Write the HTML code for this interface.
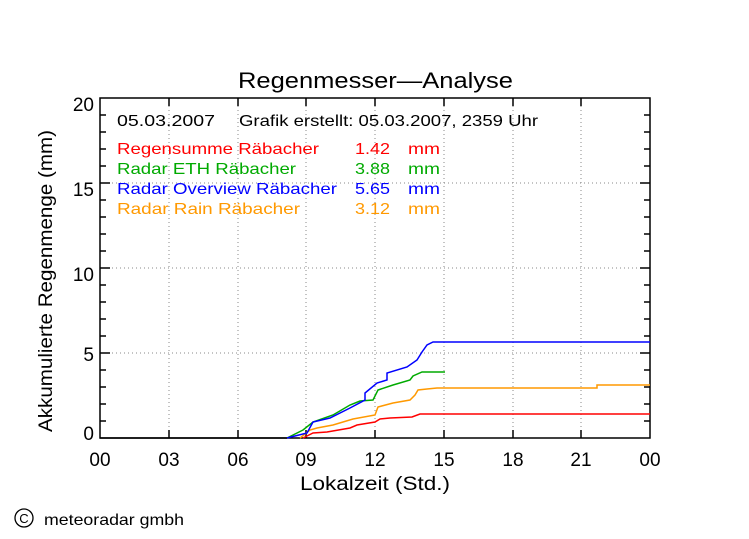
<!DOCTYPE html>
<html><head><meta charset="utf-8"><style>
html,body{margin:0;padding:0;background:#fff;}
svg{display:block;font-family:"Liberation Sans",sans-serif;}
</style></head><body>
<svg width="749" height="539" viewBox="0 0 749 539" xmlns="http://www.w3.org/2000/svg">
<rect width="749" height="539" fill="#fff"/>
<text x="238" y="88" font-size="22" textLength="275" lengthAdjust="spacingAndGlyphs" fill="#000">Regenmesser—Analyse</text>
<g stroke="#888" stroke-width="1" stroke-dasharray="1,3">
<line x1="169" y1="98" x2="169" y2="438"/><line x1="238" y1="98" x2="238" y2="438"/>
<line x1="306" y1="98" x2="306" y2="438"/><line x1="375" y1="98" x2="375" y2="438"/>
<line x1="444" y1="98" x2="444" y2="438"/><line x1="513" y1="98" x2="513" y2="438"/>
<line x1="581" y1="98" x2="581" y2="438"/>
<line x1="100" y1="353" x2="650" y2="353"/><line x1="100" y1="268" x2="650" y2="268"/>
<line x1="100" y1="183" x2="650" y2="183"/>
</g>
<rect x="100" y="98" width="550" height="340" fill="none" stroke="#000" stroke-width="1.5"/>
<g stroke="#000" stroke-width="1.5">
<line x1="100" y1="115" x2="106" y2="115"/><line x1="100" y1="132" x2="106" y2="132"/><line x1="100" y1="149" x2="106" y2="149"/><line x1="100" y1="166" x2="106" y2="166"/><line x1="100" y1="183" x2="110" y2="183"/>
<line x1="100" y1="200" x2="106" y2="200"/><line x1="100" y1="217" x2="106" y2="217"/><line x1="100" y1="234" x2="106" y2="234"/><line x1="100" y1="251" x2="106" y2="251"/><line x1="100" y1="268" x2="110" y2="268"/>
<line x1="100" y1="285" x2="106" y2="285"/><line x1="100" y1="302" x2="106" y2="302"/><line x1="100" y1="319" x2="106" y2="319"/><line x1="100" y1="336" x2="106" y2="336"/><line x1="100" y1="353" x2="110" y2="353"/>
<line x1="100" y1="370" x2="106" y2="370"/><line x1="100" y1="387" x2="106" y2="387"/><line x1="100" y1="404" x2="106" y2="404"/><line x1="100" y1="421" x2="106" y2="421"/>
<line x1="650" y1="115" x2="644" y2="115"/><line x1="650" y1="132" x2="644" y2="132"/><line x1="650" y1="149" x2="644" y2="149"/><line x1="650" y1="166" x2="644" y2="166"/><line x1="650" y1="183" x2="640" y2="183"/>
<line x1="650" y1="200" x2="644" y2="200"/><line x1="650" y1="217" x2="644" y2="217"/><line x1="650" y1="234" x2="644" y2="234"/><line x1="650" y1="251" x2="644" y2="251"/><line x1="650" y1="268" x2="640" y2="268"/>
<line x1="650" y1="285" x2="644" y2="285"/><line x1="650" y1="302" x2="644" y2="302"/><line x1="650" y1="319" x2="644" y2="319"/><line x1="650" y1="336" x2="644" y2="336"/><line x1="650" y1="353" x2="640" y2="353"/>
<line x1="650" y1="370" x2="644" y2="370"/><line x1="650" y1="387" x2="644" y2="387"/><line x1="650" y1="404" x2="644" y2="404"/><line x1="650" y1="421" x2="644" y2="421"/>
<line x1="169" y1="98" x2="169" y2="106"/><line x1="238" y1="98" x2="238" y2="106"/><line x1="306" y1="98" x2="306" y2="106"/><line x1="375" y1="98" x2="375" y2="106"/><line x1="444" y1="98" x2="444" y2="106"/><line x1="513" y1="98" x2="513" y2="106"/><line x1="581" y1="98" x2="581" y2="106"/>
<line x1="169" y1="438" x2="169" y2="430"/><line x1="238" y1="438" x2="238" y2="430"/><line x1="306" y1="438" x2="306" y2="430"/><line x1="375" y1="438" x2="375" y2="430"/><line x1="444" y1="438" x2="444" y2="430"/><line x1="513" y1="438" x2="513" y2="430"/><line x1="581" y1="438" x2="581" y2="430"/>
</g>
<g font-size="19" fill="#000">
<g text-anchor="end"><text x="94" y="111">20</text><text x="94" y="196">15</text><text x="94" y="281">10</text><text x="94" y="361">5</text><text x="94" y="440">0</text></g>
<g text-anchor="middle"><text x="100" y="466">00</text><text x="169" y="466">03</text><text x="238" y="466">06</text><text x="306" y="466">09</text><text x="375" y="466">12</text><text x="444" y="466">15</text><text x="513" y="466">18</text><text x="581" y="466">21</text><text x="650" y="466">00</text></g>
</g>
<text x="300" y="490" font-size="19" textLength="150" lengthAdjust="spacingAndGlyphs">Lokalzeit (Std.)</text>
<text transform="translate(52,432) rotate(-90)" font-size="19" textLength="302" lengthAdjust="spacingAndGlyphs">Akkumulierte Regenmenge (mm)</text>
<g font-size="16" lengthAdjust="spacingAndGlyphs">
<text x="117" y="126" fill="#000" textLength="98" lengthAdjust="spacingAndGlyphs">05.03.2007</text><text x="239" y="126" fill="#000" textLength="299" lengthAdjust="spacingAndGlyphs">Grafik erstellt: 05.03.2007, 2359 Uhr</text>
<text x="117" y="154" fill="#ff0000" textLength="202" lengthAdjust="spacingAndGlyphs">Regensumme Räbacher</text><text x="355" y="154" fill="#ff0000" textLength="35" lengthAdjust="spacingAndGlyphs">1.42</text><text x="408" y="154" fill="#ff0000" textLength="32" lengthAdjust="spacingAndGlyphs">mm</text>
<text x="117" y="174" fill="#00aa00" textLength="179" lengthAdjust="spacingAndGlyphs">Radar ETH Räbacher</text><text x="355" y="174" fill="#00aa00" textLength="35" lengthAdjust="spacingAndGlyphs">3.88</text><text x="408" y="174" fill="#00aa00" textLength="32" lengthAdjust="spacingAndGlyphs">mm</text>
<text x="117" y="194" fill="#0000ff" textLength="220" lengthAdjust="spacingAndGlyphs">Radar Overview Räbacher</text><text x="355" y="194" fill="#0000ff" textLength="35" lengthAdjust="spacingAndGlyphs">5.65</text><text x="408" y="194" fill="#0000ff" textLength="32" lengthAdjust="spacingAndGlyphs">mm</text>
<text x="117" y="214" fill="#ff9900" textLength="183" lengthAdjust="spacingAndGlyphs">Radar Rain Räbacher</text><text x="355" y="214" fill="#ff9900" textLength="35" lengthAdjust="spacingAndGlyphs">3.12</text><text x="408" y="214" fill="#ff9900" textLength="32" lengthAdjust="spacingAndGlyphs">mm</text>
</g>
<g fill="none" stroke-width="1.5">
<polyline stroke="#000" points="100,438 287,438"/>
<polyline stroke="#ff0000" points="303,438 313,433 327,432 350,428 357,425 375,422 380,419 390,418 412,417 420,414 650,414"/>
<polyline stroke="#ff9900" points="300,438 310,430 317,428 333,425 353,419 375,415 378,407 393,403 410,400 415,395 418,390 427,389 437,388 597,388 597,385 650,385"/>
<polyline stroke="#00aa00" points="287,438 303,430 313,422 333,415 350,405 360,401 373,400 378,390 393,385 410,380 413,376 422,372 445,372"/>
<polyline stroke="#0000ff" points="287,438 307,433 313,422 330,418 350,408 365,400 365,393 377,383 387,380 387,373 407,367 417,360 422,352 427,345 433,342 650,342"/>
</g>
<circle cx="24" cy="518" r="9" fill="none" stroke="#000" stroke-width="1.3"/>
<text x="24" y="523" font-size="13" text-anchor="middle">C</text>
<text x="44" y="525" font-size="16" textLength="140" lengthAdjust="spacingAndGlyphs">meteoradar gmbh</text>
</svg>
</body></html>
